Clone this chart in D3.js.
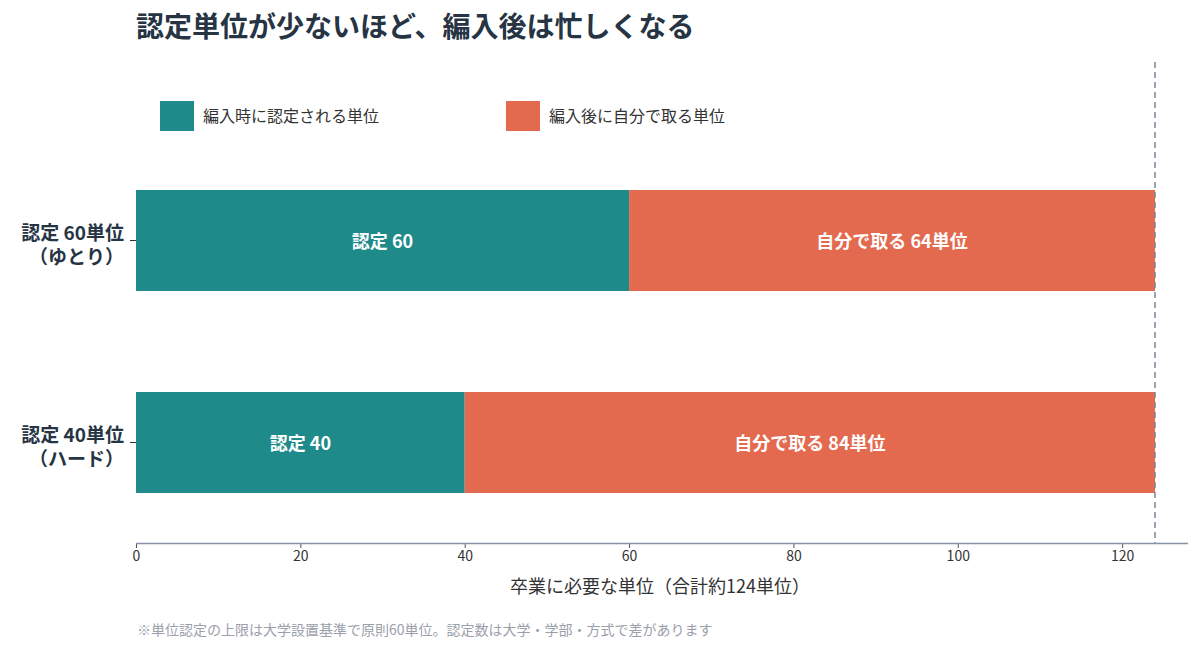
<!DOCTYPE html>
<html lang="ja">
<head>
<meta charset="UTF-8">
<script src="https://d3js.org/d3.v7.min.js"></script>
<style>
body{margin:0;background:#fff;font-family:"Noto Sans CJK JP","Noto Sans",sans-serif;}
</style>
</head>
<body>
<svg width="1200" height="650"></svg>
<script>
var categories = ["認定 60単位|（ゆとり）", "認定 40単位|（ハード）"];
var granted = [60, 40];
var selfTaken = [64, 84];
var total = 124;
var xTicks = [0, 20, 40, 60, 80, 100, 120];
var legendLabels = ["編入時に認定される単位", "編入後に自分で取る単位"];
var colors = ["#1f8a8a", "#e46a4f"];

var svg = d3.select("svg");
var x = d3.scaleLinear().domain([0, total]).range([136, 1155]);
var y = d3.scaleBand().domain(categories).range([89, 594]).paddingInner(0.5).paddingOuter(0.5);

svg.append("text").attr("x", 136).attr("y", 37).attr("font-size", 28).attr("font-weight", 700)
  .attr("fill", "#263444").text("認定単位が少ないほど、編入後は忙しくなる");

// legend
legendLabels.forEach(function (t, i) {
  var lx = i == 0 ? 160 : 506;
  svg.append("rect").attr("x", lx).attr("y", 101).attr("width", 34).attr("height", 30).attr("fill", colors[i]);
  svg.append("text").attr("x", lx + 43).attr("y", 122).attr("font-size", 16).attr("fill", "#333").text(t);
});

// bars
categories.forEach(function (c, i) {
  var segs = [[0, granted[i], "認定 " + granted[i]], [granted[i], granted[i] + selfTaken[i], "自分で取る " + selfTaken[i] + "単位"]];
  segs.forEach(function (s, j) {
    svg.append("rect").attr("x", x(s[0])).attr("y", y(c)).attr("width", x(s[1]) - x(s[0]))
      .attr("height", y.bandwidth()).attr("fill", colors[j]);
    svg.append("text").attr("x", (x(s[0]) + x(s[1])) / 2).attr("y", y(c) + y.bandwidth() / 2 + 7)
      .attr("text-anchor", "middle").attr("font-size", 18).attr("font-weight", 700).attr("fill", "#fff").text(s[2]);
  });
  var parts = c.split("|");
  var cy = y(c) + y.bandwidth() / 2;
  parts.forEach(function (p, k) {
    svg.append("text").attr("x", 124).attr("y", cy - 1 + k * 24).attr("text-anchor", "end")
      .attr("font-size", 19).attr("font-weight", 700).attr("fill", "#263444").text(p);
  });
  svg.append("line").attr("x1", 130).attr("x2", 136).attr("y1", cy).attr("y2", cy).attr("stroke", "#333");
});

// dashed total line
svg.append("line").attr("x1", x(total)).attr("x2", x(total)).attr("y1", 62).attr("y2", 543)
  .attr("stroke", "#7a849a").attr("stroke-width", 1.5).attr("stroke-dasharray", "6,4");

// axis
var ax = svg.append("g").attr("transform", "translate(0,543)")
  .call(d3.axisBottom(x).tickValues(xTicks).tickSize(5).tickSizeOuter(0));
ax.select(".domain").remove();
ax.selectAll("text").attr("font-size", 14).attr("fill", "#333").attr("font-family", "Noto Sans CJK JP");
ax.selectAll("line").attr("stroke", "#555");
svg.append("line").attr("x1", 136).attr("x2", 1188).attr("y1", 543.5).attr("y2", 543.5).attr("stroke", "#8a90a8").attr("stroke-width", 1.5);

svg.append("text").attr("x", 660).attr("y", 593).attr("text-anchor", "middle").attr("font-size", 18)
  .attr("fill", "#333").text("卒業に必要な単位（合計約124単位）");
svg.append("text").attr("x", 137).attr("y", 635).attr("font-size", 14).attr("fill", "#9aa0aa")
  .text("※単位認定の上限は大学設置基準で原則60単位。認定数は大学・学部・方式で差があります");
</script>
</body>
</html>
